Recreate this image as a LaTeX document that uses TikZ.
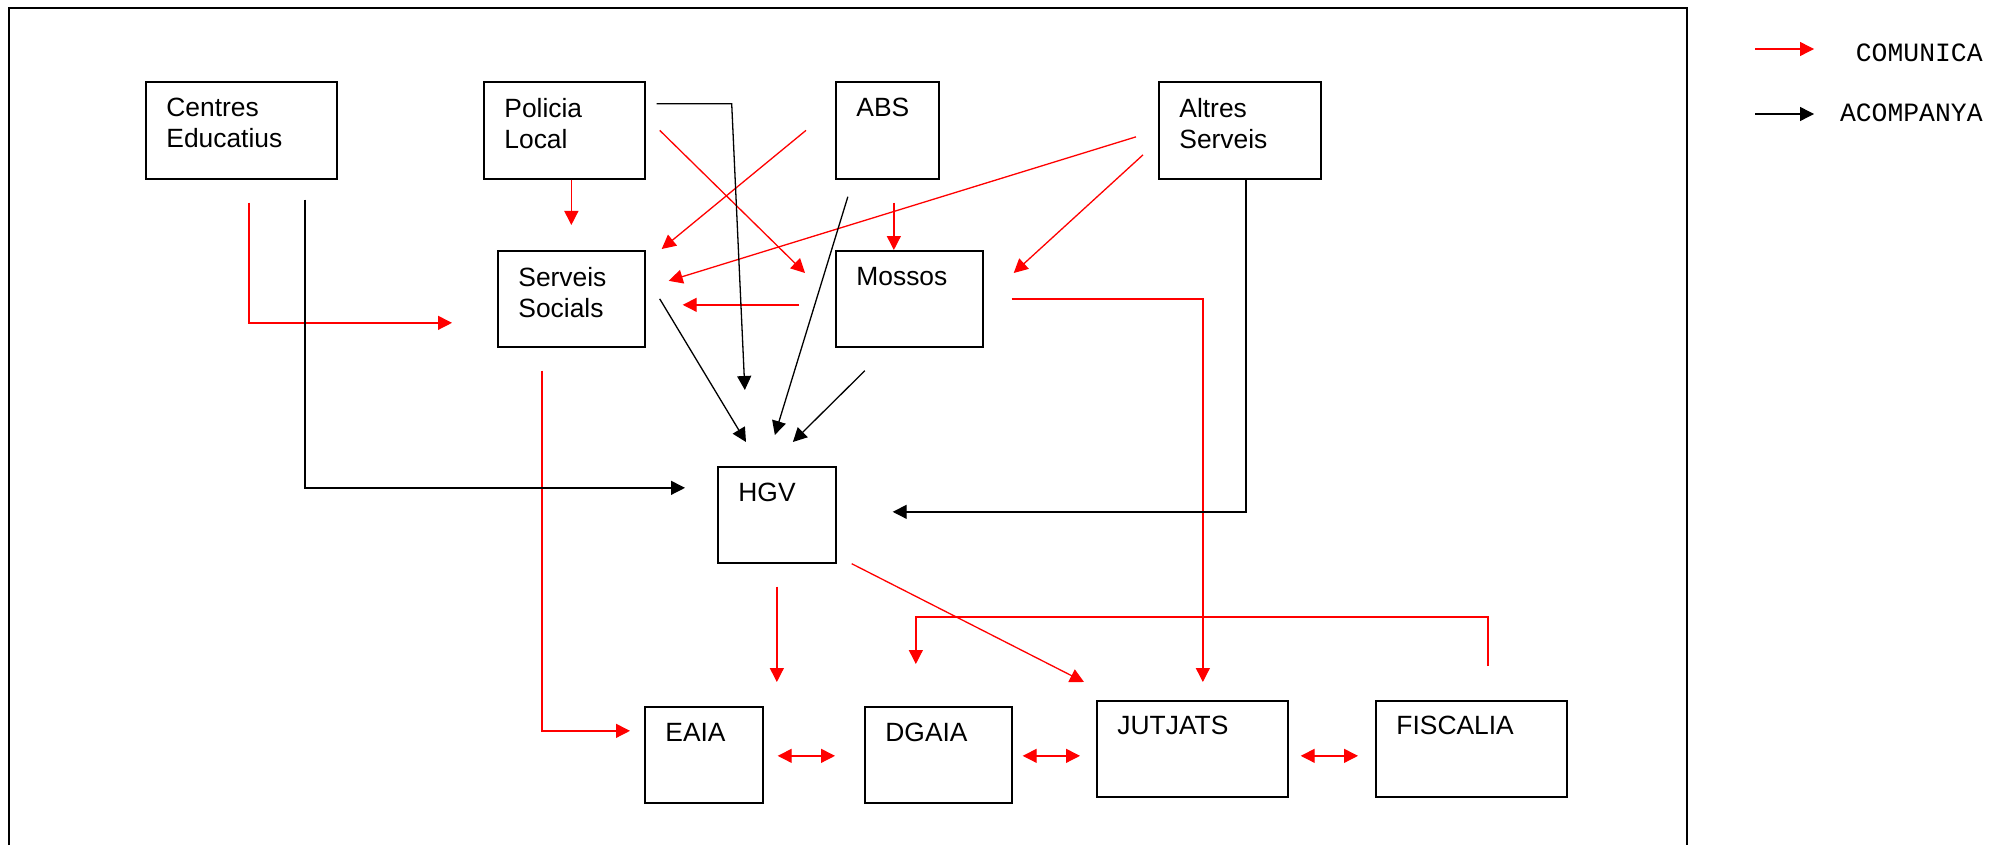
\documentclass[tikz,border=0pt]{standalone}
\usepackage{fontspec}
\setmainfont{Liberation Sans}
\newfontfamily\legendfont{Liberation Mono}
\usetikzlibrary{arrows.meta}

\begin{document}
\begin{tikzpicture}[x=0.5pt, y=-0.5pt,
    box/.style 2 args={draw, line width=0.85pt, anchor=north west, inner sep=0pt,
        minimum width=#1*0.5pt, minimum height=#2*0.5pt},
    lbl/.style={anchor=north west, inner sep=0pt, align=left,
        font=\fontsize{13.2}{15.5}\selectfont},
    com/.style={red, line width=0.65pt, -{Triangle[length=7pt, width=7pt]}},
    acc/.style={black, line width=0.65pt, -{Triangle[length=7pt, width=7pt]}},
    both/.style={red, line width=0.65pt,
        {Triangle[length=7pt, width=7pt]}-{Triangle[length=7pt, width=7pt]}},
    legend/.style={anchor=east, inner sep=0pt,
        font=\legendfont\fontsize{13.2}{15}\selectfont}]
    \useasboundingbox (0,0) rectangle (1989,845);
    \draw[line width=0.9pt] (9,845) |- (1687,8) -- (1687,845);

    \node[box={191}{97}] (ce) at (145,81) {};
    \node[box={161}{97}] (pl) at (483,81) {};
    \node[box={103}{97}] (abs) at (835,81) {};
    \node[box={162}{97}] (as) at (1158,81) {};
    \node[box={147}{96}] (ss) at (497,250) {};
    \node[box={147}{96}] (mo) at (835,250) {};
    \node[box={118}{96}] (hgv) at (717,466) {};
    \node[box={118}{96}] (eaia) at (644,706) {};
    \node[box={147}{96}] (dgaia) at (864,706) {};
    \node[box={191}{96}] (jut) at (1096,700) {};
    \node[box={191}{96}] (fis) at (1375,700) {};

    \node[lbl] (cetext) at ([shift={(21,17)}]ce.north west) {Centres\\Educatius};
    \node[lbl] (pltext) at ([shift={(21,17)}]pl.north west) {Policia\\Local};
    \node[lbl] (abstext) at ([shift={(21,17)}]abs.north west) {ABS};
    \node[lbl] (astext) at ([shift={(21,17)}]as.north west) {Altres\\Serveis};
    \node[lbl] (sstext) at ([shift={(21,17)}]ss.north west) {Serveis\\Socials};
    \node[lbl] (motext) at ([shift={(21,17)}]mo.north west) {Mossos};
    \node[lbl] (hgvtext) at ([shift={(21,17)}]hgv.north west) {HGV};
    \node[lbl] (eaiatext) at ([shift={(21,17)}]eaia.north west) {EAIA};
    \node[lbl] (dgaiatext) at ([shift={(21,17)}]dgaia.north west) {DGAIA};
    \node[lbl] (juttext) at ([shift={(21,16)}]jut.north west) {JUTJATS};
    \node[lbl] (fistext) at ([shift={(21,16)}]fis.north west) {FISCALIA};

    \draw[com] ([shift={(7.5,23)}]ce.south) |- ([shift={(-45,24)}]ss.west);
    \draw[com] (ss.north |- pl.south) -- ([shift={(0,-25)}]ss.north);
    \draw[com] ([shift={(14,0)}]pl.east) -- ([shift={(-30,23)}]mo.north west);
    \draw[com] ([shift={(-29,0)}]abs.west) -- ([shift={(16,-1)}]ss.north east);
    \draw[com] ([shift={(-22,6.5)}]as.west) -- ([shift={(23,-18)}]ss.east);
    \draw[com] ([shift={(-15,24.5)}]as.west) -- ([shift={(30,23)}]mo.north east);
    \draw[com] ([shift={(6.5,23)}]abs.south) coordinate (absred) -- (absred |- mo.north);
    \draw[com] ([shift={(-36,6)}]mo.west) -- ([shift={(37,6)}]ss.east);
    \draw[com] ([shift={(28,0)}]mo.east) -| ([shift={(10.5,-18)}]jut.north);
    \draw[com] ([shift={(-29.5,23)}]ss.south) |- ([shift={(-14,-24)}]eaia.west);
    \draw[com] ([shift={(0,23)}]hgv.south) -- ([shift={(73,-24)}]eaia.north);
    \draw[com] ([shift={(15,0)}]hgv.south east) -- ([shift={(-12,-18)}]jut.north west);
    \draw[com] ([shift={(16.5,-34)}]fis.north) -- ++(0,-49) -| ([shift={(-22.5,-42)}]dgaia.north);
    \draw[both] ([shift={(14,1)}]eaia.east) -- ([shift={(-29,1)}]dgaia.west);
    \draw[both] ([shift={(10,1)}]dgaia.east) -- ([shift={(-16,7)}]jut.west);
    \draw[both] ([shift={(12,7)}]jut.east) -- ([shift={(-17,7)}]fis.west);

    \draw[acc] ([shift={(63.5,20)}]ce.south) |- ([shift={(-32,-27)}]hgv.west);
    \draw[acc] ([shift={(11,-26.5)}]pl.east) -- ++(75,0) -- ([shift={(-32,-76)}]hgv.north);
    \draw[acc] ([shift={(14,0)}]ss.east) -- ([shift={(29,-24)}]hgv.north west);
    \draw[acc] ([shift={(-39.5,17)}]abs.south) -- ([shift={(-2,-31)}]hgv.north);
    \draw[acc] ([shift={(-44.5,23)}]mo.south) -- ([shift={(16,-24)}]hgv.north);
    \draw[acc] ([shift={(6,0)}]as.south) |- ([shift={(56,-3)}]hgv.east);

    \node[legend] (lcom) at (1983,52.5) {COMUNICA};
    \node[legend] (lacc) at (1983,113) {ACOMPANYA};
    \draw[com] ([shift={(-228,-3.5)}]lcom.east) -- ([shift={(-169,-3.5)}]lcom.east);
    \draw[acc] ([shift={(-228,1)}]lacc.east) -- ([shift={(-169,1)}]lacc.east);
\end{tikzpicture}
\end{document}
